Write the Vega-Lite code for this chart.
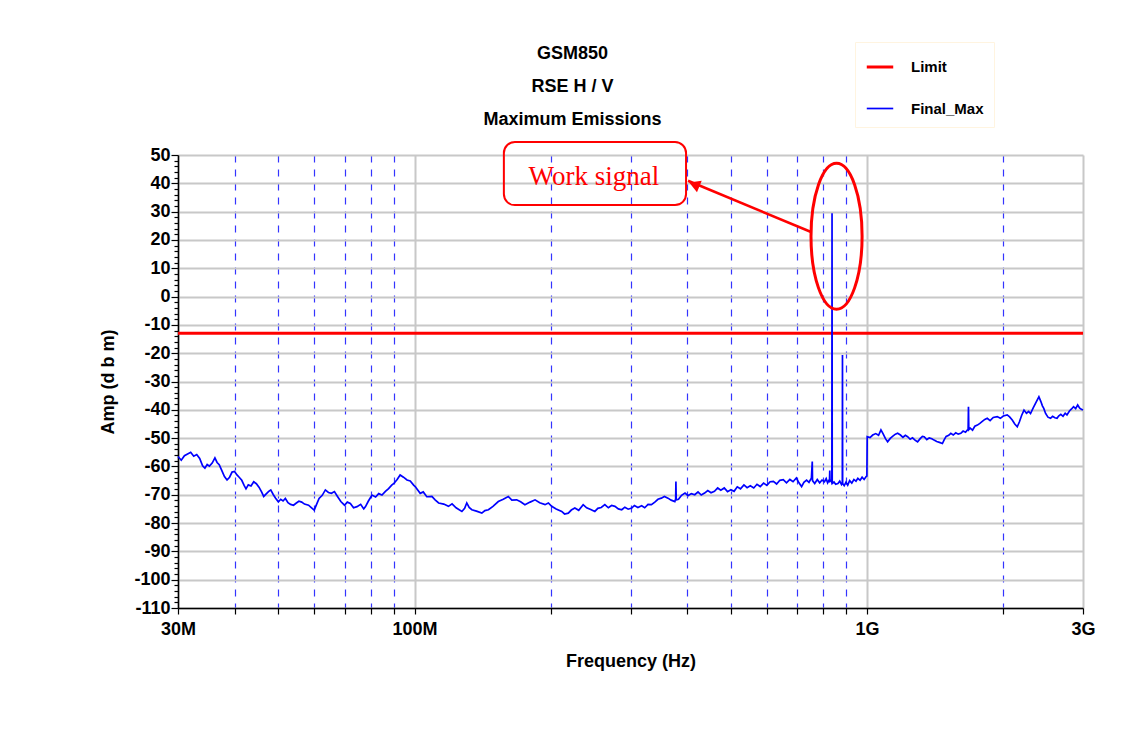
{
  "$schema": "https://vega.github.io/schema/vega-lite/v6.json",
  "width": 905,
  "height": 453,
  "autosize": {"type": "none"},
  "padding": {"left": 178, "top": 155, "right": 51, "bottom": 145},
  "background": "white",
  "config": {
    "font": "Liberation Sans, Arial, sans-serif",
    "view": {"stroke": null},
    "axis": {
      "labelFont": "Liberation Sans, Arial, sans-serif",
      "labelFontWeight": "bold",
      "labelFontSize": 18,
      "labelColor": "black",
      "titleFont": "Liberation Sans, Arial, sans-serif",
      "titleFontWeight": "bold",
      "titleFontSize": 18,
      "titleColor": "black",
      "domainColor": "black",
      "domainWidth": 1.5,
      "tickColor": "black",
      "tickWidth": 1.2
    }
  },
  "title": {
    "text": ["GSM850", "RSE H / V", "Maximum Emissions"],
    "anchor": "middle",
    "dx": -58,
    "offset": -87,
    "lineHeight": 33,
    "font": "Liberation Sans, Arial, sans-serif",
    "fontSize": 18,
    "fontWeight": "bold",
    "color": "black"
  },
  "datasets": {
    "limit": [{"f": 30, "v": -13}, {"f": 3000, "v": -13}],
    "trace": [
      {"f": 30.0, "v": -56.5}, {"f": 30.5, "v": -57.8}, {"f": 31.0, "v": -56.2}, {"f": 31.5, "v": -55.6},
      {"f": 32.0, "v": -55.0}, {"f": 32.5, "v": -56.4}, {"f": 33.0, "v": -55.8}, {"f": 33.5, "v": -57.2},
      {"f": 34.0, "v": -59.8}, {"f": 34.4, "v": -60.6}, {"f": 34.8, "v": -59.3}, {"f": 35.2, "v": -59.9},
      {"f": 35.7, "v": -58.8}, {"f": 36.2, "v": -57.0}, {"f": 36.6, "v": -58.6}, {"f": 37.0, "v": -59.4},
      {"f": 37.5, "v": -61.5}, {"f": 38.0, "v": -63.6}, {"f": 38.5, "v": -64.8}, {"f": 39.0, "v": -63.8},
      {"f": 39.5, "v": -62.0}, {"f": 40.0, "v": -61.8}, {"f": 40.5, "v": -63.0}, {"f": 41.0, "v": -63.9},
      {"f": 41.5, "v": -64.9}, {"f": 42.0, "v": -66.7}, {"f": 42.4, "v": -67.9}, {"f": 42.9, "v": -66.5},
      {"f": 43.5, "v": -66.9}, {"f": 44.1, "v": -65.4}, {"f": 44.7, "v": -66.1}, {"f": 45.3, "v": -67.3},
      {"f": 45.9, "v": -69.0}, {"f": 46.4, "v": -70.6}, {"f": 47.0, "v": -69.7}, {"f": 47.6, "v": -68.8},
      {"f": 48.1, "v": -68.3}, {"f": 48.7, "v": -69.9}, {"f": 49.3, "v": -71.2}, {"f": 50.0, "v": -72.5},
      {"f": 50.6, "v": -71.6}, {"f": 51.2, "v": -72.2}, {"f": 51.8, "v": -71.3}, {"f": 52.5, "v": -72.8},
      {"f": 53.2, "v": -73.4}, {"f": 54.0, "v": -73.7}, {"f": 54.7, "v": -73.0}, {"f": 55.5, "v": -72.3},
      {"f": 56.3, "v": -72.6}, {"f": 57.1, "v": -73.3}, {"f": 58.3, "v": -73.7}, {"f": 59.2, "v": -74.6},
      {"f": 60.0, "v": -75.4}, {"f": 60.5, "v": -74.0}, {"f": 61.5, "v": -71.3}, {"f": 62.5, "v": -70.2},
      {"f": 63.5, "v": -68.3}, {"f": 64.5, "v": -69.2}, {"f": 65.5, "v": -69.5}, {"f": 66.5, "v": -68.9},
      {"f": 67.6, "v": -70.7}, {"f": 68.7, "v": -72.4}, {"f": 70.0, "v": -73.7}, {"f": 71.0, "v": -72.6},
      {"f": 72.1, "v": -73.1}, {"f": 73.3, "v": -74.6}, {"f": 74.6, "v": -74.2}, {"f": 76.0, "v": -73.4},
      {"f": 77.2, "v": -75.0}, {"f": 77.9, "v": -74.2}, {"f": 79.0, "v": -72.3}, {"f": 80.5, "v": -70.1},
      {"f": 82.0, "v": -70.8}, {"f": 83.3, "v": -69.6}, {"f": 84.7, "v": -70.1}, {"f": 86.2, "v": -68.8},
      {"f": 87.6, "v": -67.8}, {"f": 89.0, "v": -66.6}, {"f": 90.0, "v": -66.0}, {"f": 91.5, "v": -64.6},
      {"f": 92.9, "v": -63.0}, {"f": 94.5, "v": -63.8}, {"f": 96.2, "v": -64.8}, {"f": 97.8, "v": -65.1},
      {"f": 99.5, "v": -66.6}, {"f": 100.3, "v": -67.1}, {"f": 101.5, "v": -68.2}, {"f": 102.9, "v": -69.5},
      {"f": 104.5, "v": -69.0}, {"f": 106.4, "v": -70.7}, {"f": 109.2, "v": -70.6}, {"f": 111.0, "v": -71.8},
      {"f": 113.0, "v": -72.9}, {"f": 116.0, "v": -73.3}, {"f": 118.8, "v": -74.1}, {"f": 121.0, "v": -73.2},
      {"f": 123.5, "v": -74.6}, {"f": 127.2, "v": -75.9}, {"f": 129.0, "v": -74.8}, {"f": 130.4, "v": -72.9},
      {"f": 132.0, "v": -74.5}, {"f": 133.8, "v": -75.3}, {"f": 137.0, "v": -75.8}, {"f": 140.8, "v": -76.5},
      {"f": 143.0, "v": -75.6}, {"f": 145.6, "v": -75.3}, {"f": 149.0, "v": -74.1}, {"f": 153.1, "v": -72.4},
      {"f": 157.0, "v": -71.6}, {"f": 161.1, "v": -70.6}, {"f": 164.0, "v": -71.9}, {"f": 168.1, "v": -71.8},
      {"f": 171.5, "v": -72.5}, {"f": 175.3, "v": -73.5}, {"f": 180.0, "v": -72.6}, {"f": 184.6, "v": -71.8},
      {"f": 189.0, "v": -72.8}, {"f": 194.2, "v": -73.5}, {"f": 197.5, "v": -72.9}, {"f": 200.9, "v": -74.1},
      {"f": 205.5, "v": -75.0}, {"f": 211.4, "v": -75.9}, {"f": 214.5, "v": -76.8}, {"f": 218.6, "v": -76.5},
      {"f": 222.0, "v": -75.4}, {"f": 226.0, "v": -74.7}, {"f": 230.5, "v": -75.5}, {"f": 235.8, "v": -73.5},
      {"f": 240.0, "v": -74.6}, {"f": 245.0, "v": -75.2}, {"f": 250.2, "v": -75.9}, {"f": 254.0, "v": -74.8},
      {"f": 258.5, "v": -74.5}, {"f": 263.3, "v": -73.5}, {"f": 268.0, "v": -74.6}, {"f": 272.5, "v": -73.8},
      {"f": 277.2, "v": -74.1}, {"f": 282.0, "v": -75.0}, {"f": 286.9, "v": -75.3}, {"f": 291.5, "v": -74.4},
      {"f": 296.5, "v": -75.1}, {"f": 301.9, "v": -74.7}, {"f": 306.0, "v": -73.8}, {"f": 311.5, "v": -74.5},
      {"f": 317.5, "v": -73.9}, {"f": 322.5, "v": -74.6}, {"f": 328.0, "v": -73.4}, {"f": 333.7, "v": -73.5},
      {"f": 339.5, "v": -72.6}, {"f": 345.0, "v": -71.6}, {"f": 350.9, "v": -71.2}, {"f": 356.5, "v": -70.6},
      {"f": 363.0, "v": -71.2}, {"f": 369.0, "v": -71.9}, {"f": 375.9, "v": -72.4}, {"f": 377.5, "v": -71.5},
      {"f": 378.0, "v": -65.3}, {"f": 378.6, "v": -71.8}, {"f": 383.0, "v": -71.6}, {"f": 389.0, "v": -70.2},
      {"f": 395.9, "v": -69.4}, {"f": 402.0, "v": -70.3}, {"f": 409.0, "v": -69.6}, {"f": 416.1, "v": -70.0},
      {"f": 423.0, "v": -69.0}, {"f": 430.0, "v": -70.1}, {"f": 437.4, "v": -69.4}, {"f": 444.5, "v": -68.5},
      {"f": 452.0, "v": -69.3}, {"f": 459.9, "v": -68.8}, {"f": 467.5, "v": -67.6}, {"f": 475.0, "v": -68.4},
      {"f": 483.4, "v": -67.6}, {"f": 491.5, "v": -68.9}, {"f": 500.0, "v": -68.2}, {"f": 508.2, "v": -68.8},
      {"f": 516.5, "v": -67.2}, {"f": 525.0, "v": -67.9}, {"f": 534.3, "v": -66.5}, {"f": 543.0, "v": -67.5},
      {"f": 552.0, "v": -66.8}, {"f": 561.7, "v": -67.6}, {"f": 571.0, "v": -66.3}, {"f": 580.5, "v": -67.1},
      {"f": 590.5, "v": -65.9}, {"f": 600.5, "v": -66.7}, {"f": 610.5, "v": -65.4}, {"f": 620.8, "v": -65.3},
      {"f": 631.0, "v": -66.2}, {"f": 641.5, "v": -64.9}, {"f": 652.7, "v": -64.7}, {"f": 663.5, "v": -65.8},
      {"f": 675.0, "v": -64.6}, {"f": 686.0, "v": -65.4}, {"f": 697.7, "v": -64.1}, {"f": 707.0, "v": -65.8},
      {"f": 716.5, "v": -67.1}, {"f": 725.0, "v": -65.6}, {"f": 735.0, "v": -64.8}, {"f": 744.0, "v": -65.6},
      {"f": 753.2, "v": -64.1}, {"f": 756.5, "v": -58.3}, {"f": 757.5, "v": -65.0}, {"f": 766.0, "v": -66.0},
      {"f": 776.0, "v": -64.6}, {"f": 785.5, "v": -65.8}, {"f": 795.0, "v": -64.8}, {"f": 805.0, "v": -65.4},
      {"f": 812.0, "v": -64.3}, {"f": 818.0, "v": -65.8}, {"f": 826.0, "v": -64.5}, {"f": 827.0, "v": -61.4},
      {"f": 828.0, "v": -65.2}, {"f": 834.0, "v": -64.8}, {"f": 835.8, "v": -66.0}, {"f": 836.6, "v": 29.4},
      {"f": 837.4, "v": -66.0}, {"f": 845.0, "v": -65.5}, {"f": 852.0, "v": -66.3}, {"f": 862.0, "v": -66.0},
      {"f": 870.0, "v": -65.2}, {"f": 878.0, "v": -66.4}, {"f": 881.5, "v": -66.0}, {"f": 882.2, "v": -20.6},
      {"f": 883.0, "v": -66.0}, {"f": 890.0, "v": -66.8}, {"f": 898.0, "v": -65.6}, {"f": 906.0, "v": -66.6},
      {"f": 915.0, "v": -65.0}, {"f": 925.0, "v": -65.9}, {"f": 935.0, "v": -64.6}, {"f": 945.0, "v": -65.2},
      {"f": 954.0, "v": -64.2}, {"f": 965.0, "v": -64.9}, {"f": 975.0, "v": -63.8}, {"f": 985.0, "v": -64.6},
      {"f": 995.0, "v": -63.6}, {"f": 999.0, "v": -63.4}, {"f": 1000.5, "v": -49.5}, {"f": 1015, "v": -49.8},
      {"f": 1029, "v": -48.9}, {"f": 1045, "v": -48.4}, {"f": 1060, "v": -49.0}, {"f": 1073, "v": -47.1},
      {"f": 1085, "v": -48.5}, {"f": 1098, "v": -50.2}, {"f": 1110, "v": -51.3}, {"f": 1125, "v": -50.1},
      {"f": 1140, "v": -49.3}, {"f": 1155, "v": -48.6}, {"f": 1168, "v": -48.3}, {"f": 1185, "v": -48.9},
      {"f": 1200, "v": -49.7}, {"f": 1215, "v": -49.0}, {"f": 1229, "v": -49.5}, {"f": 1245, "v": -50.4},
      {"f": 1260, "v": -49.9}, {"f": 1278, "v": -50.8}, {"f": 1293, "v": -51.3}, {"f": 1310, "v": -50.2},
      {"f": 1325, "v": -49.4}, {"f": 1337, "v": -49.5}, {"f": 1355, "v": -50.5}, {"f": 1372, "v": -49.9},
      {"f": 1390, "v": -50.2}, {"f": 1406, "v": -50.7}, {"f": 1425, "v": -51.2}, {"f": 1445, "v": -51.5},
      {"f": 1467, "v": -51.9}, {"f": 1480, "v": -50.6}, {"f": 1495, "v": -49.4}, {"f": 1515, "v": -49.0},
      {"f": 1531, "v": -48.3}, {"f": 1550, "v": -48.9}, {"f": 1570, "v": -48.1}, {"f": 1590, "v": -48.6},
      {"f": 1611, "v": -48.3}, {"f": 1630, "v": -47.5}, {"f": 1650, "v": -47.9}, {"f": 1666, "v": -47.1},
      {"f": 1672, "v": -47.0}, {"f": 1675, "v": -38.9}, {"f": 1678, "v": -47.0}, {"f": 1690, "v": -46.5},
      {"f": 1710, "v": -47.2}, {"f": 1730, "v": -45.8}, {"f": 1753, "v": -45.4}, {"f": 1775, "v": -44.8},
      {"f": 1797, "v": -44.1}, {"f": 1820, "v": -43.4}, {"f": 1843, "v": -43.0}, {"f": 1870, "v": -43.8},
      {"f": 1900, "v": -42.7}, {"f": 1939, "v": -42.4}, {"f": 1970, "v": -43.0}, {"f": 2000, "v": -42.2},
      {"f": 2040, "v": -41.8}, {"f": 2065, "v": -42.5}, {"f": 2093, "v": -43.6}, {"f": 2120, "v": -45.0},
      {"f": 2147, "v": -46.0}, {"f": 2170, "v": -44.3}, {"f": 2195, "v": -42.0}, {"f": 2222, "v": -40.1},
      {"f": 2250, "v": -41.2}, {"f": 2275, "v": -40.6}, {"f": 2297, "v": -41.3}, {"f": 2330, "v": -39.2},
      {"f": 2365, "v": -37.2}, {"f": 2397, "v": -35.4}, {"f": 2420, "v": -37.0}, {"f": 2440, "v": -38.6},
      {"f": 2457, "v": -39.5}, {"f": 2480, "v": -41.3}, {"f": 2510, "v": -42.6}, {"f": 2543, "v": -43.0},
      {"f": 2570, "v": -42.3}, {"f": 2600, "v": -42.8}, {"f": 2629, "v": -43.0}, {"f": 2650, "v": -42.2},
      {"f": 2680, "v": -41.6}, {"f": 2710, "v": -42.3}, {"f": 2740, "v": -41.2}, {"f": 2765, "v": -41.8},
      {"f": 2800, "v": -40.4}, {"f": 2830, "v": -39.7}, {"f": 2859, "v": -38.9}, {"f": 2890, "v": -39.6},
      {"f": 2920, "v": -38.3}, {"f": 2950, "v": -39.4}, {"f": 2975, "v": -39.8}, {"f": 3000, "v": -40.1}
    ],
    "callout": [{"f": 157.5, "f2": 398, "v": 54.6, "v2": 32.3}],
    "label": [{"f": 249, "v": 42.3, "text": "Work signal"}],
    "arrow": [{"f": 752, "v": 22.8, "f2": 402, "v2": 40.9}],
    "arrowhead": [{"f": 415, "v": 39.6}],
    "ring": [{"f": 856, "v": 21.3}]
  },
  "layer": [
    {
      "data": {"name": "limit"},
      "mark": {"type": "line"},
      "encoding": {
        "x": {
          "field": "f", "type": "quantitative",
          "scale": {"type": "log", "domain": [30, 3000], "nice": false},
          "axis": {
            "title": "Frequency (Hz)",
            "titlePadding": 14,
            "values": [30, 40, 50, 60, 70, 80, 90, 100, 200, 300, 400, 500, 600, 700, 800, 900, 1000, 2000, 3000],
            "tickCount": 200,
            "labelExpr": "datum.value == 30 ? '30M' : datum.value == 100 ? '100M' : datum.value == 1000 ? '1G' : datum.value == 3000 ? '3G' : ''",
            "labelOverlap": false,
            "labelFlush": false,
            "labelPadding": 6,
            "tickSize": 6,
            "grid": true,
            "gridColor": {"condition": {"test": "indexof([30, 100, 1000, 3000], datum.value) >= 0", "value": "#c8c8c8"}, "value": "#3434ff"},
            "gridDash": {"condition": {"test": "indexof([30, 100, 1000, 3000], datum.value) >= 0", "value": []}, "value": [7, 7]},
            "gridWidth": {"condition": {"test": "indexof([30, 100, 1000, 3000], datum.value) >= 0", "value": 2}, "value": 1.2}
          }
        },
        "y": {
          "field": "v", "type": "quantitative",
          "scale": {"domain": [-110, 50], "nice": false, "zero": false},
          "axis": {
            "title": "Amp (d b m)",
            "titlePadding": 16,
            "values": [-110, -108, -106, -104, -102, -100, -98, -96, -94, -92, -90, -88, -86, -84, -82, -80, -78, -76, -74, -72, -70, -68, -66, -64, -62, -60, -58, -56, -54, -52, -50, -48, -46, -44, -42, -40, -38, -36, -34, -32, -30, -28, -26, -24, -22, -20, -18, -16, -14, -12, -10, -8, -6, -4, -2, 0, 2, 4, 6, 8, 10, 12, 14, 16, 18, 20, 22, 24, 26, 28, 30, 32, 34, 36, 38, 40, 42, 44, 46, 48, 50],
            "tickCount": 200,
            "labelExpr": "datum.value % 10 == 0 ? '' + datum.value : ''",
            "labelOverlap": false,
            "labelPadding": 1,
            "tickSize": {"condition": {"test": "datum.value % 10 == 0", "value": 7}, "value": 4},
            "grid": true,
            "gridColor": "#c8c8c8",
            "gridWidth": 2,
            "gridOpacity": {"condition": {"test": "datum.value % 10 == 0", "value": 1}, "value": 0}
          }
        },
        "color": {
          "datum": "Limit", "type": "nominal",
          "scale": {"domain": ["Limit", "Final_Max"], "range": ["#ff0000", "#0000ff"]},
          "legend": {
            "title": null,
            "orient": "none",
            "legendX": 677,
            "legendY": -113,
            "padding": 10,
            "strokeColor": "#fff4e0",
            "fillColor": "white",
            "symbolType": "stroke",
            "symbolSize": 700,
            "symbolStrokeWidth": 3,
            "rowPadding": 19,
            "labelOffset": 16,
            "labelFont": "Liberation Sans, Arial, sans-serif",
            "labelFontWeight": "bold",
            "labelFontSize": 15,
            "labelColor": "black"
          }
        },
        "strokeWidth": {
          "datum": "Limit", "type": "nominal",
          "scale": {"domain": ["Limit", "Final_Max"], "range": [3, 1.7]},
          "legend": null
        }
      }
    },
    {
      "data": {"name": "trace"},
      "mark": {"type": "line", "interpolate": "linear"},
      "encoding": {
        "x": {"field": "f", "type": "quantitative", "scale": {"type": "log", "domain": [30, 3000], "nice": false}},
        "y": {"field": "v", "type": "quantitative", "scale": {"domain": [-110, 50], "nice": false, "zero": false}},
        "color": {"datum": "Final_Max", "type": "nominal"},
        "strokeWidth": {"datum": "Final_Max", "type": "nominal"}
      }
    },
    {
      "data": {"name": "callout"},
      "mark": {"type": "rect", "fillOpacity": 0, "stroke": "#ff0000", "strokeWidth": 2, "cornerRadius": 11},
      "encoding": {
        "x": {"field": "f", "type": "quantitative", "scale": {"type": "log", "domain": [30, 3000], "nice": false}},
        "x2": {"field": "f2"},
        "y": {"field": "v", "type": "quantitative", "scale": {"domain": [-110, 50], "nice": false, "zero": false}},
        "y2": {"field": "v2"}
      }
    },
    {
      "data": {"name": "label"},
      "mark": {"type": "text", "font": "Liberation Serif, Times New Roman, serif", "fontSize": 27, "color": "#ff0000", "align": "center", "baseline": "middle"},
      "encoding": {
        "x": {"field": "f", "type": "quantitative", "scale": {"type": "log", "domain": [30, 3000], "nice": false}},
        "y": {"field": "v", "type": "quantitative", "scale": {"domain": [-110, 50], "nice": false, "zero": false}},
        "text": {"field": "text"}
      }
    },
    {
      "data": {"name": "arrow"},
      "mark": {"type": "rule", "color": "#ff0000", "strokeWidth": 2.5},
      "encoding": {
        "x": {"field": "f", "type": "quantitative", "scale": {"type": "log", "domain": [30, 3000], "nice": false}},
        "x2": {"field": "f2"},
        "y": {"field": "v", "type": "quantitative", "scale": {"domain": [-110, 50], "nice": false, "zero": false}},
        "y2": {"field": "v2"}
      }
    },
    {
      "data": {"name": "arrowhead"},
      "mark": {"type": "point", "shape": "triangle-left", "filled": true, "color": "#ff0000", "size": 160, "angle": 22, "opacity": 1},
      "encoding": {
        "x": {"field": "f", "type": "quantitative", "scale": {"type": "log", "domain": [30, 3000], "nice": false}},
        "y": {"field": "v", "type": "quantitative", "scale": {"domain": [-110, 50], "nice": false, "zero": false}}
      }
    },
    {
      "data": {"name": "ring"},
      "mark": {"type": "point", "shape": "M0,-1 A0.35,1 0 1,1 0,1 A0.35,1 0 1,1 0,-1 Z", "filled": false, "stroke": "#ff0000", "strokeWidth": 3, "size": 21316, "opacity": 1},
      "encoding": {
        "x": {"field": "f", "type": "quantitative", "scale": {"type": "log", "domain": [30, 3000], "nice": false}},
        "y": {"field": "v", "type": "quantitative", "scale": {"domain": [-110, 50], "nice": false, "zero": false}}
      }
    }
  ]
}
